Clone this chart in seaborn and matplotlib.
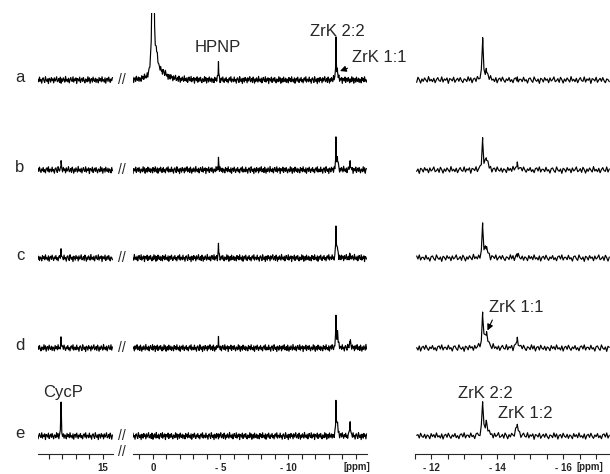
import matplotlib
matplotlib.use("Agg")
import matplotlib.pyplot as plt
import numpy as np
import pandas as pd
import seaborn as sns

# spectra rows and the peaks seen in them (ppm, half width, height per row)
rows = ["a", "b", "c", "d", "e"]
peak_names = ["CycP", "P0", "P0 tail", "P0 tail 2", "HPNP", "ZrK 2:2", "ZrK 1:1", "ZrK 1:2"]
peak_ppm = [18.1, 0.0, -0.25, -0.7, -4.85, -13.55, -13.66, -14.6]
peak_hwhm = [0.02, 0.03, 0.15, 0.45, 0.02, 0.02, 0.05, 0.04]
height_a = [0, 700, 18, 6, 18, 40, 8, 0]
height_b = [8, 0, 0, 0, 12, 28, 11, 6]
height_c = [6, 0, 0, 0, 14, 31, 10, 3]
height_d = [9, 0, 0, 0, 8, 32, 15, 8]
height_e = [33, 0, 0, 0, 0, 32, 13, 11]
heights = [height_a, height_b, height_c, height_d, height_e]

# baseline jitter, read off roughly by eye
noise = [0.2, -0.5, 0.8, -0.3, 0.1, -0.9, 0.4, 0.6, -0.2, -0.7, 0.9, 0.0, -0.4, 0.3,
         -1.0, 0.5, 0.2, -0.6, 0.7, -0.1, 0.3, -0.8, 0.6, -0.3, 0.1, 0.9, -0.5, -0.2,
         0.4, -0.7, 0.8, 0.1, -0.9, 0.3, -0.4, 0.6, 0.0, -0.6, 1.0, -0.3, 0.2, -0.5,
         0.5, -0.8, 0.1, 0.7, -0.2, -0.4, 0.9, -0.6, 0.3, -0.1, 0.6, -1.0, 0.4, 0.2,
         -0.3, 0.8, -0.7, 0.0, 0.5, -0.4, 0.7, -0.2, -0.8, 0.3, 0.1, -0.5, 0.9, -0.3,
         0.6, -0.9, 0.2, 0.4, -0.6, 0.8, -0.1, -0.4, 0.5, -0.7, 0.3, 0.0, -0.8, 0.7,
         -0.2, 0.4, -0.5, 0.9, -0.3, 0.1, -0.6, 0.6, -0.9, 0.2, 0.5, -0.4, 0.8, -0.1,
         -0.7, 0.3, -0.2, 0.7, -0.5, 0.1, -0.8, 0.4, 0.6, -0.3, 0.9, -0.6, 0.2]

# axis ticks
left_major = [15]
left_major_labels = ["15"]
left_minor = [19, 18, 17, 16, 15]
mid_major = [0, -5, -10]
mid_major_labels = ["0", "- 5", "- 10"]
mid_minor = list(range(1, -16, -1))
right_major = [-12, -14, -16]
right_major_labels = ["- 12", "- 14", "- 16"]
right_minor = list(np.arange(-11.5, -17.5, -0.5))

W, H = 610, 474
baseline_px = [80, 170, 258, 348, 436]
AX_TOP, AX_BOT = 13, 454


def add_ax(x0, x1):
    return fig.add_axes([x0 / W, (H - AX_BOT) / H, (x1 - x0) / W, (AX_BOT - AX_TOP) / H])


def spectrum(lo, hi, step, amp, row_i, shift):
    grid = np.arange(hi, lo, -step)
    inside = [p for p in peak_ppm if lo <= p <= hi]
    x = np.sort(np.union1d(grid, inside))[::-1]
    jit = np.resize(np.roll(noise, shift), len(x)) * amp
    y = np.zeros(len(x))
    for p, w, h in zip(peak_ppm, peak_hwhm, heights[row_i]):
        if h:
            y += h / (1 + ((x - p) / w) ** 2)
    return pd.DataFrame({"ppm": x, "y": baseline_px[row_i] - y - jit, "row": rows[row_i]})


sns.set_style("ticks")
plt.rcParams["font.family"] = ["Liberation Sans", "DejaVu Sans"]
fig = plt.figure(figsize=(W / 100, H / 100), dpi=100)

panels = [
    (add_ax(38, 113), (19.8, 14.26), 0.055, 3.6, left_major, left_major_labels, left_minor),
    (add_ax(133, 367), (1.48, -15.85), 0.05, 3.6, mid_major, mid_major_labels, mid_minor),
    (add_ax(415, 610), (-11.55, -17.41), 0.04, 3.4, right_major, right_major_labels, right_minor),
]

for k, (ax, (hi, lo), step, amp, major, labels, minor) in enumerate(panels):
    df = pd.concat([spectrum(lo, hi, step, amp, i, 17 * i + 41 * k) for i in range(len(rows))])
    sns.lineplot(data=df, x="ppm", y="y", units="row", estimator=None, sort=False,
                 color="black", lw=0.85, ax=ax)
    ax.set_xlim(hi, lo)
    ax.set_ylim(AX_BOT, AX_TOP)
    ax.set(xlabel="", ylabel="")
    ax.set_yticks([])
    for s in ["top", "left", "right"]:
        ax.spines[s].set_visible(False)
    ax.spines["bottom"].set_linewidth(0.8)
    ax.set_xticks(major)
    ax.set_xticklabels(labels, fontsize=7, fontweight="bold")
    ax.set_xticks(minor, minor=True)
    ax.tick_params(axis="x", which="both", direction="out", length=3.5, width=0.8, pad=3)

ax_l, ax_m, ax_r = panels[0][0], panels[1][0], panels[2][0]
for xp in [357, 590]:
    fig.text(xp / W, 1 - 467 / H, "[ppm]", fontsize=7, fontweight="bold",
             ha="center", va="center")

# row letters and axis break marks
for i, r in enumerate(rows):
    fig.text(20 / W, 1 - (baseline_px[i] - 3) / H, r, fontsize=12, ha="center", va="center")
    fig.text(122 / W, 1 - baseline_px[i] / H, "//", fontsize=10, ha="center", va="center")
fig.text(122 / W, 1 - 452 / H, "//", fontsize=10, ha="center", va="center")


def peak_top(row, name):
    i, j = rows.index(row), peak_names.index(name)
    return peak_ppm[j], baseline_px[i] - heights[i][j]


def label(ax, row, name, dx, dy, arrow=False):
    px = 0.72
    kw = dict(textcoords="offset points", fontsize=12, ha="center", va="center")
    if arrow:
        kw["arrowprops"] = dict(arrowstyle="-|>,head_length=0.3,head_width=0.15", lw=0.8,
                                color="black", relpos=(0.1, 0.0), shrinkA=1, shrinkB=2)
    ax.annotate(name, xy=peak_top(row, name), xytext=(dx * px, dy * px), **kw)


label(ax_m, "a", "HPNP", -1, 15)
label(ax_m, "a", "ZrK 2:2", 1, 8)
label(ax_m, "a", "ZrK 1:1", 42, 15, arrow=True)
label(ax_l, "e", "CycP", 2, 11)
label(ax_r, "d", "ZrK 1:1", 30, 25, arrow=True)
label(ax_r, "e", "ZrK 2:2", 3, 10)
label(ax_r, "e", "ZrK 1:2", 8, 12)

fig.savefig("out.png", dpi=100)
